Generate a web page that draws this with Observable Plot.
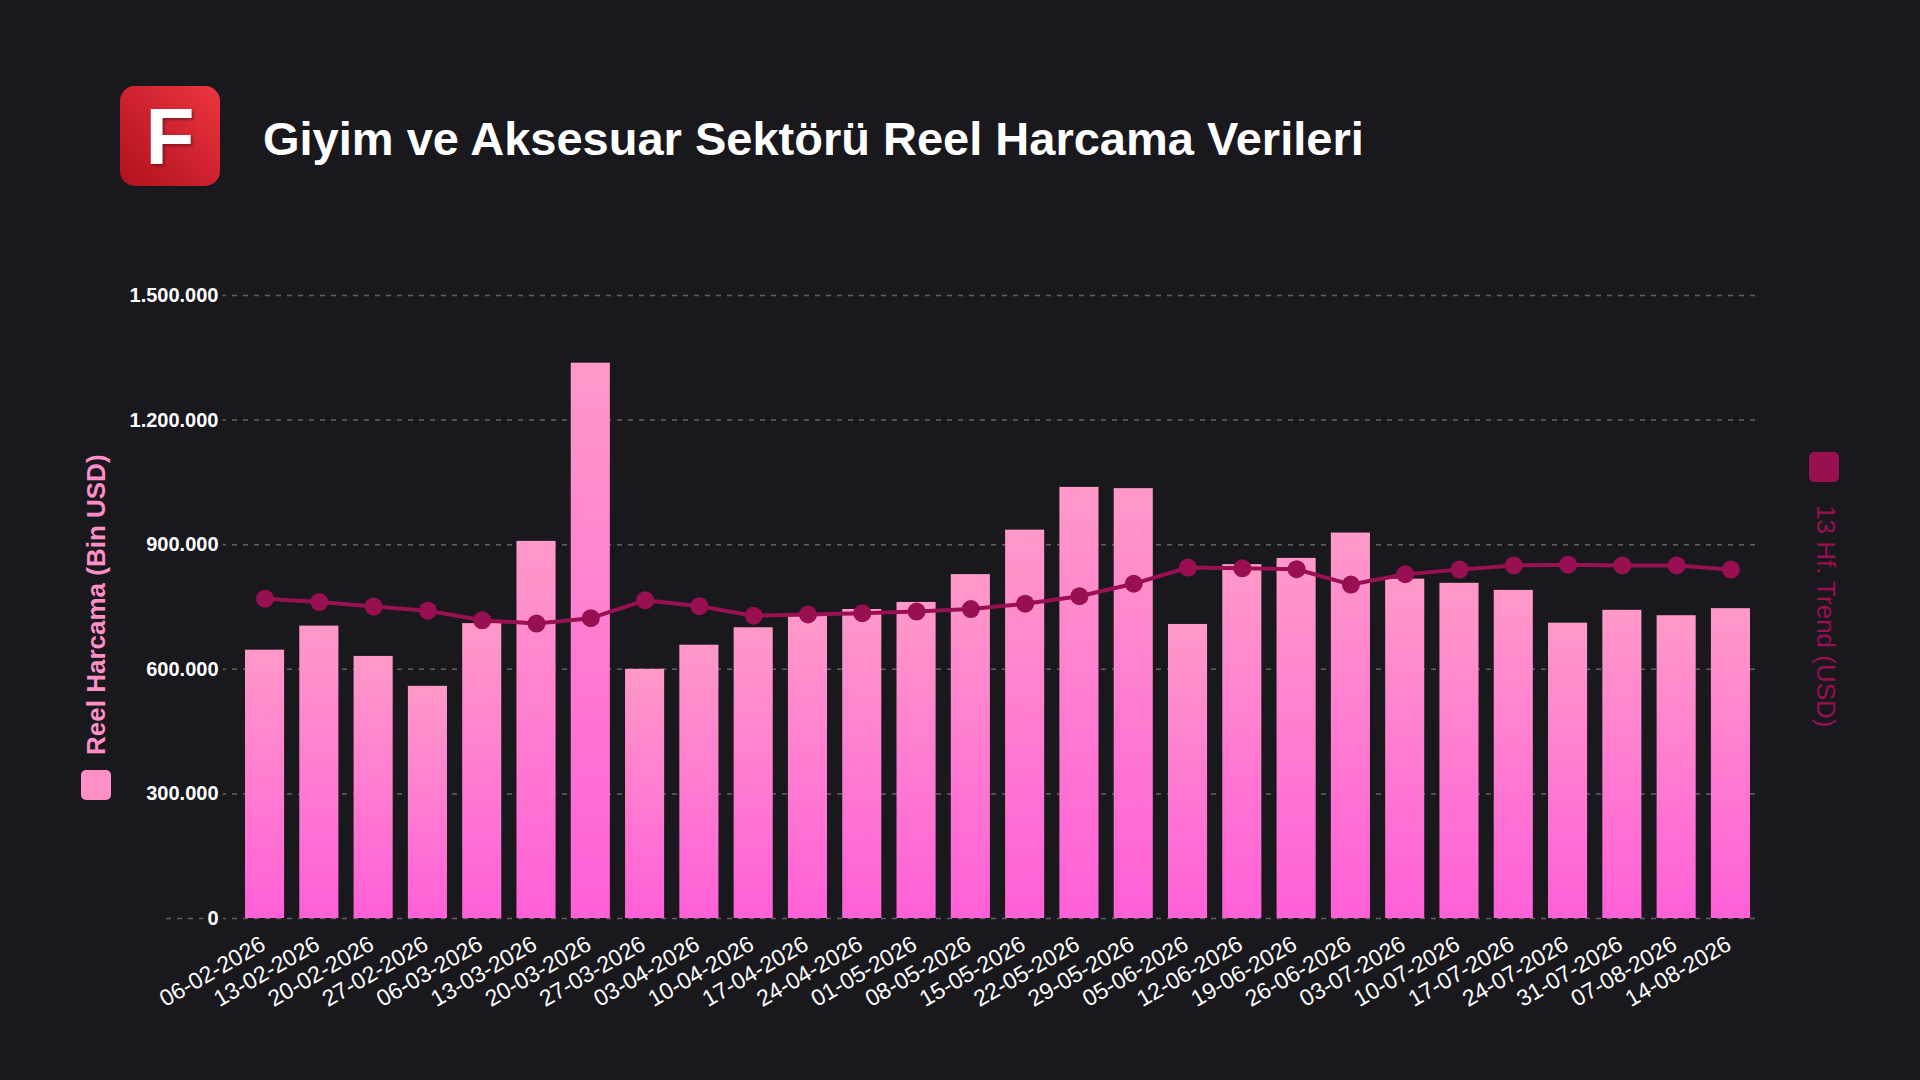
<!DOCTYPE html>
<html><head><meta charset="utf-8">
<script src="https://cdn.jsdelivr.net/npm/d3@7"></script>
<script src="https://cdn.jsdelivr.net/npm/@observablehq/plot@0.6"></script>
<style>
html,body{margin:0;padding:0;background:#19181d;}
#chart{position:relative;width:1920px;height:1080px;overflow:hidden;}
#chart svg{position:absolute;left:0;top:0;}
</style></head><body><div id="chart"></div>
<script>
const dates = ["06-02-2026","13-02-2026","20-02-2026","27-02-2026","06-03-2026","13-03-2026","20-03-2026","27-03-2026","03-04-2026","10-04-2026","17-04-2026","24-04-2026","01-05-2026","08-05-2026","15-05-2026","22-05-2026","29-05-2026","05-06-2026","12-06-2026","19-06-2026","26-06-2026","03-07-2026","10-07-2026","17-07-2026","24-07-2026","31-07-2026","07-08-2026","14-08-2026"];
const spending = [646000,704000,631000,559000,710000,908000,1337000,600000,658000,700000,729000,744000,761000,828000,935000,1038000,1035000,708000,852000,867000,928000,817000,807000,790000,711000,742000,729000,746000];
const trend = [770000,762000,751000,741000,718000,710000,723000,766000,752000,729000,732000,735000,739000,745000,758000,776000,806000,845000,843000,841000,804000,829000,840000,850000,852000,850000,850000,840000];
const yTicks = [0,300000,600000,900000,1200000,1500000];
const titleText = "Giyim ve Aksesuar Sektörü Reel Harcama Verileri";
const leftLabel = "Reel Harcama (Bin USD)";
const rightLabel = "13 Hf. Trend (USD)";

const BG = "#19181d";
const data = dates.map((d, i) => ({date: d, spending: spending[i], trend: trend[i]}));
const fmt = d3.formatLocale({decimal: ",", thousands: ".", grouping: [3], currency: ["", ""]}).format(",");

const plot = Plot.plot({
  width: 1920, height: 1080,
  marginTop: 295, marginBottom: 162, marginLeft: 166, marginRight: 163,
  style: {background: "transparent", fontFamily: "'Liberation Sans', Arial, sans-serif", color: "#fff", overflow: "visible"},
  x: {type: "band", domain: dates, range: [238, 1757], paddingInner: 0.28, paddingOuter: 0.129, round: false, axis: null},
  y: {domain: [0, 1500000], axis: null},
  marks: [
    Plot.ruleY(yTicks, {stroke: "#616165", strokeWidth: 1.5, strokeDasharray: "5,6"}),
    Plot.text(yTicks, {y: d => d, text: d => fmt(d), frameAnchor: "left", dx: 52, textAnchor: "end",
      fill: "#fff", fontWeight: "bold", fontSize: 20, stroke: BG, strokeWidth: 10, paintOrder: "stroke", strokeLinejoin: "miter"}),
    Plot.barY(data, {x: "date", y: "spending", fill: "url(#barGrad)"}),
    Plot.line(data, {x: "date", y: "trend", stroke: "#980f52", strokeWidth: 4}),
    Plot.dot(data, {x: "date", y: "trend", r: 9, fill: "#980f52"}),
    Plot.text(dates, {x: d => d, text: d => d, frameAnchor: "bottom", rotate: -30, textAnchor: "end",
      dy: 30, dx: 2, fontSize: 23, fill: "#fff"})
  ]
});

document.getElementById("chart").appendChild(plot);
const svg = d3.select(plot);
const defs = svg.insert("defs", ":first-child");
const bg = defs.append("linearGradient").attr("id", "barGrad").attr("x1", 0).attr("y1", 0).attr("x2", 0).attr("y2", 1);
bg.append("stop").attr("offset", "0%").attr("stop-color", "#ff99c9");
bg.append("stop").attr("offset", "100%").attr("stop-color", "#ff60d8");
const lg = defs.append("linearGradient").attr("id", "logoGrad").attr("x1", 1).attr("y1", 0).attr("x2", 0).attr("y2", 1);
lg.append("stop").attr("offset", "0%").attr("stop-color", "#ec3541");
lg.append("stop").attr("offset", "100%").attr("stop-color", "#b0111d");
const sh = defs.append("filter").attr("id", "fshadow").attr("x", "-20%").attr("y", "-20%").attr("width", "140%").attr("height", "140%");
sh.append("feDropShadow").attr("dx", 2).attr("dy", 2).attr("stdDeviation", 1.5).attr("flood-color", "#000").attr("flood-opacity", 0.35);

const deco = svg.append("g").attr("font-family", "'Liberation Sans', Arial, sans-serif").attr("text-anchor", "start");
deco.append("rect").attr("x", 120).attr("y", 86).attr("width", 100).attr("height", 100).attr("rx", 15).attr("fill", "url(#logoGrad)");
deco.append("text").attr("x", 170).attr("y", 164).attr("text-anchor", "middle").attr("font-size", 80).attr("font-weight", "bold")
  .attr("fill", "#fff").attr("filter", "url(#fshadow)").text("F");
deco.append("text").attr("x", 263).attr("y", 155).attr("text-anchor", "start").attr("font-size", 47).attr("font-weight", "bold").attr("fill", "#fff").text(titleText);

deco.append("rect").attr("x", 81).attr("y", 770).attr("width", 30).attr("height", 30).attr("rx", 5).attr("fill", "#ff8fc8");
deco.append("text").attr("transform", "translate(105,755) rotate(-90)").attr("text-anchor", "start").attr("font-size", 26).attr("font-weight", "bold")
  .attr("fill", "#ff8fc8").text(leftLabel);
deco.append("rect").attr("x", 1809).attr("y", 452).attr("width", 30).attr("height", 30).attr("rx", 5).attr("fill", "#980f52");
deco.append("text").attr("transform", "translate(1817,505) rotate(90)").attr("text-anchor", "start").attr("font-size", 26)
  .attr("fill", "#980f52").text(rightLabel);
</script>
</body></html>
